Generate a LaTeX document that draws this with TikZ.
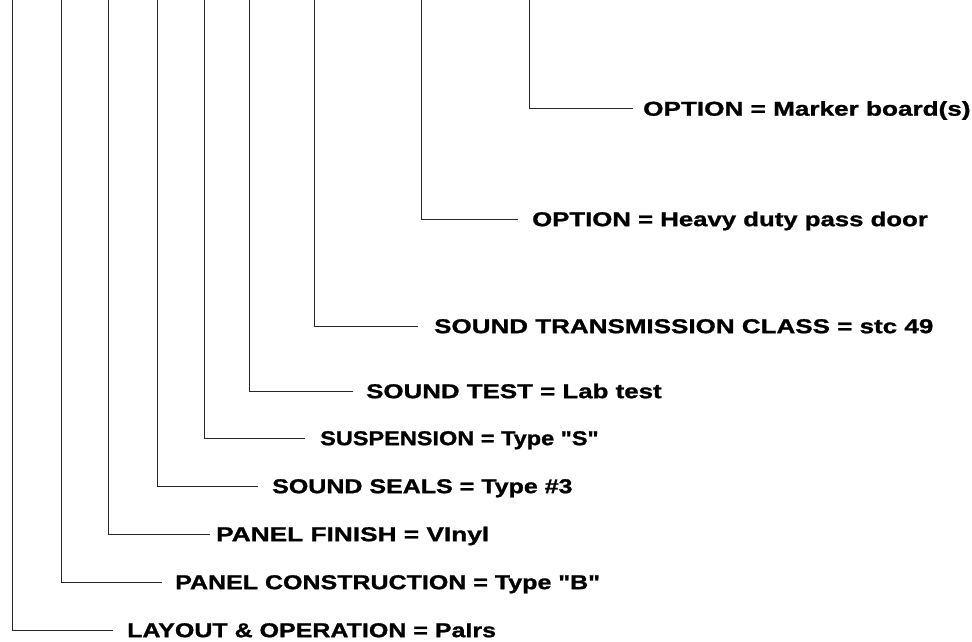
\documentclass[tikz,border=0pt]{standalone}
\usepackage{graphicx}
\usepackage{fontspec}
\newfontfamily\lblfont[FakeStretch=1.25,FakeBold=1.2]{Liberation Sans Bold}
\begin{document}
\begin{tikzpicture}[x=1pt,y=-1pt,
  lbl/.style={anchor=west, inner sep=0pt, text height=14.3pt, text depth=0pt,
    font=\lblfont\fontsize{20}{24}\selectfont},
  conn/.style={draw=black!85, line width=0.9pt}]
\useasboundingbox[fill=white] (0,0) rectangle (972,642);
% top ends of the vertical lines
\coordinate (t1) at (529,-1);
\coordinate (t2) at (421,-1);
\coordinate (t3) at (314,-1);
\coordinate (t4) at (249,-1);
\coordinate (t5) at (204,-1);
\coordinate (t6) at (157,-1);
\coordinate (t7) at (108,-1);
\coordinate (t8) at (61,-1);
\coordinate (t9) at (12,-1);
% ends of the horizontal lines
\coordinate (e1) at (633,108.5);
\coordinate (e2) at (518,219);
\coordinate (e3) at (418,326);
\coordinate (e4) at (353,391);
\coordinate (e5) at (305,438);
\coordinate (e6) at (258,486);
\coordinate (e7) at (210,534);
\coordinate (e8) at (162,582);
\coordinate (e9) at (113,630);
% labels
\node[lbl] (n1) at (643,108.5) {\scalebox{1.045}[1]{OPTION = Marker board(s)}};
\node[lbl] (n2) at (532,219) {\scalebox{1.03}[1]{OPTION = Heavy duty pass door}};
\node[lbl] (n3) at (434,326) {\scalebox{1.04}[1]{SOUND TRANSMISSION CLASS = stc 49}};
\node[lbl] (n4) at (366,391) {\scalebox{1.035}[1]{SOUND TEST = Lab test}};
\node[lbl] (n5) at (320,438) {\scalebox{0.94}[1]{SUSPENSION = Type "S"}};
\node[lbl] (n6) at (272,486) {SOUND SEALS = Type \#3};
\node[lbl] (n7) at (216,534) {\scalebox{1.05}[1]{PANEL FINISH = VInyl}};
\node[lbl] (n8) at (175,582) {PANEL CONSTRUCTION = Type "B"};
\node[lbl] (n9) at (127,630) {LAYOUT \& OPERATION = PaIrs};
% connectors
\foreach \i in {1,...,9} {\draw[conn] (t\i) |- (e\i);}
\end{tikzpicture}
\end{document}
